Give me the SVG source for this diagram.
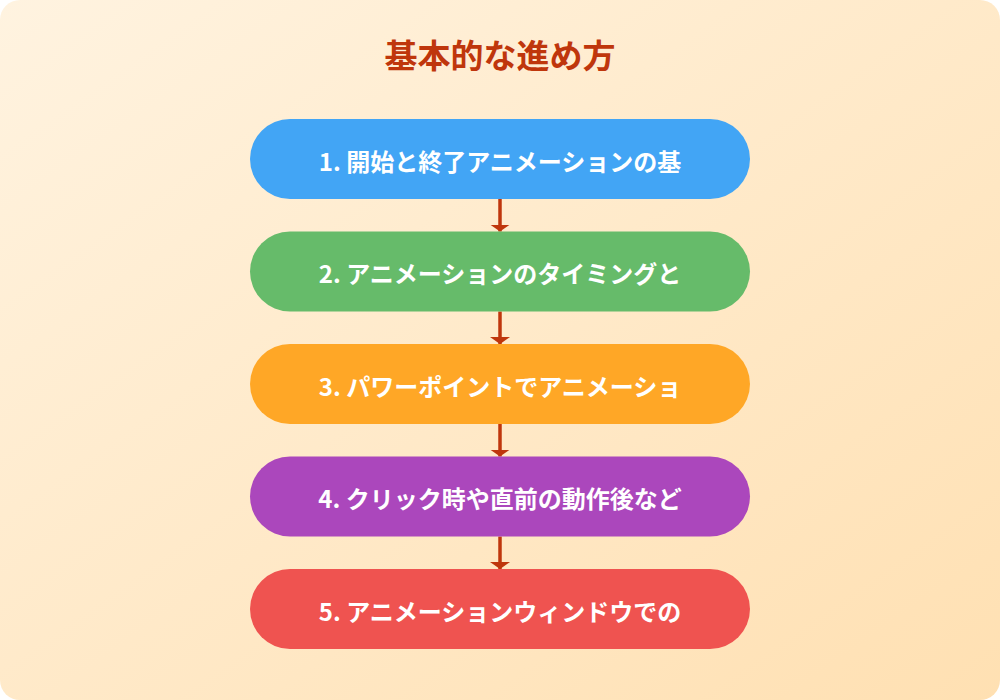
<svg xmlns="http://www.w3.org/2000/svg" width="1000" height="700" viewBox="0 0 1000 700">
<defs>
<linearGradient id="bg" x1="0" y1="0" x2="1" y2="1">
<stop offset="0" stop-color="#FFF3E0"/>
<stop offset="1" stop-color="#FFE0B2"/>
</linearGradient>
<marker id="arr" markerWidth="7" markerHeight="20" refX="7" refY="10" orient="auto" markerUnits="userSpaceOnUse" viewBox="0 0 7 20">
<path d="M0,0 L7,10 L0,20 Z" fill="#BF360C"/>
</marker>
<style>
.node-text{font-family:"Noto Sans CJK JP","Noto Sans",sans-serif;font-weight:bold;font-size:24px;fill:#FFFFFF;text-anchor:middle;dominant-baseline:central}
.title{font-family:"Noto Sans CJK JP","Noto Sans",sans-serif;font-weight:bold;font-size:33px;fill:#BF360C;text-anchor:middle}
.conn{stroke:#BF360C;stroke-width:3.5;fill:none}
</style>
</defs>
<rect x="0" y="0" width="1000" height="700" fill="#FFFFFF"/>
<rect x="0" y="0" width="1000" height="700" rx="20" ry="20" fill="url(#bg)"/>
<text class="title" x="500" y="68">基本的な進め方</text>
<g id="connectors">
<line class="conn" x1="500" y1="199" x2="500" y2="231.5" marker-end="url(#arr)"/>
<line class="conn" x1="500" y1="311.5" x2="500" y2="344" marker-end="url(#arr)"/>
<line class="conn" x1="500" y1="424" x2="500" y2="456.5" marker-end="url(#arr)"/>
<line class="conn" x1="500" y1="536.5" x2="500" y2="569" marker-end="url(#arr)"/>
</g>
<g id="node1">
<rect x="250" y="119" width="500" height="80" rx="40" ry="40" fill="#42A5F5"/>
<text class="node-text" x="500" y="160">1. 開始と終了アニメーションの基</text>
</g>
<g id="node2">
<rect x="250" y="231.5" width="500" height="80" rx="40" ry="40" fill="#66BB6A"/>
<text class="node-text" x="500" y="272.5">2. アニメーションのタイミングと</text>
</g>
<g id="node3">
<rect x="250" y="344" width="500" height="80" rx="40" ry="40" fill="#FFA726"/>
<text class="node-text" x="500" y="385">3. パワーポイントでアニメーショ</text>
</g>
<g id="node4">
<rect x="250" y="456.5" width="500" height="80" rx="40" ry="40" fill="#AB47BC"/>
<text class="node-text" x="500" y="497.5">4. クリック時や直前の動作後など</text>
</g>
<g id="node5">
<rect x="250" y="569" width="500" height="80" rx="40" ry="40" fill="#EF5350"/>
<text class="node-text" x="500" y="610">5. アニメーションウィンドウでの</text>
</g>
</svg>
